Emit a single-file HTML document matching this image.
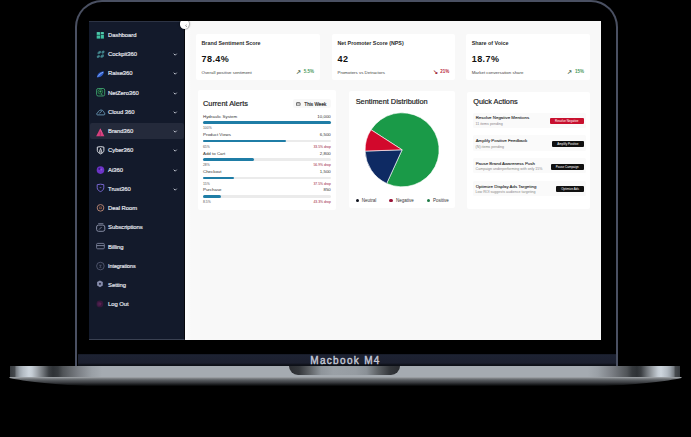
<!DOCTYPE html>
<html><head><meta charset="utf-8">
<style>
*{margin:0;padding:0;box-sizing:border-box}
html,body{width:691px;height:437px;background:#000;overflow:hidden;font-family:"Liberation Sans",sans-serif}
.abs{position:absolute}
#lid{position:absolute;left:75px;top:0;width:543px;height:380px;border:2.5px solid #4a5062;border-bottom:none;border-radius:27px 27px 0 0;background:#000}
#screen{position:absolute;left:89px;top:20.5px;width:512px;height:319px;background:linear-gradient(90deg,#131a2b 0,#131a2b 95px,#fdfdfe 96px,#fdfdfe 98px,#f8f8f8 102px);overflow:hidden}
#side{position:absolute;left:0;top:0;width:95.5px;height:319px;background:#131a2b;border-top:1px solid #2c3344;border-bottom:1px solid #3a4152;border-right:0.8px solid #08090e}
#side .t{position:absolute;left:19.1px;line-height:6px;white-space:nowrap;color:#e4e6ee;font-size:5.9px;font-weight:normal;letter-spacing:-0.06px;-webkit-text-stroke:0.18px #e4e6ee}
#side svg.ic{position:absolute;left:7px;width:10px;height:10px}
#side svg.ch{position:absolute;left:84.3px;width:4.4px;height:3px}
#main{position:absolute;left:95.5px;top:0;width:416.5px;height:319px}
.card{position:absolute;background:#fff;border-radius:2px}
.tx{position:absolute;white-space:nowrap}
</style></head><body>

<!-- lid -->
<div id="lid"></div>

<!-- chin strip -->
<div class="abs" style="left:77.5px;top:354px;width:538px;height:11.8px;background:linear-gradient(#151925 0px,#1d2232 1.5px,#1b1f2e 9px,#10131c 10.5px,#0c0f16 11.8px)"></div>
<div class="abs" style="left:0;top:356.1px;width:691px;text-align:center;font-size:10px;letter-spacing:1.32px;color:#c4c8d6;line-height:10px;font-weight:normal;-webkit-text-stroke:0.4px #c4c8d6"><span style="position:relative;left:0px">Macbook M4</span></div>

<!-- base -->
<div class="abs" style="left:10px;top:365.7px;width:670px;height:11.2px;background:linear-gradient(90deg,#35393d 0px,#45494d 4.5px,#7a8086 6.5px,#a0a8b0 10px,#b4bcc4 13px,#cdd5dd 19px,#c4ccd4 22px,#a0a6ac 27px,#70757a 33px,#3a3e42 39px,#2e3236 43px,#363a3e 48px,#505458 53px,#7a7e84 68px,#9aa0a6 82px,#a5abb1 92px,#a5abb1 578px,#9aa0a6 588px,#7a7e84 602px,#505458 617px,#363a3e 622px,#2e3236 627px,#3a3e42 631px,#70757a 637px,#a0a6ac 643px,#c4ccd4 648px,#cdd5dd 651px,#b4bcc4 657px,#a0a8b0 660px,#7a8086 663.5px,#45494d 665.5px,#35393d 670px)"></div>
<!-- lower lip -->
<svg class="abs" style="left:0;top:376.9px" width="691" height="12" viewBox="0 0 691 12">
<defs><linearGradient id="lip" x1="0" y1="0" x2="0" y2="1"><stop offset="0" stop-color="#a8acb0"/><stop offset="0.09" stop-color="#8e9296"/><stop offset="0.17" stop-color="#7a7e82"/><stop offset="0.33" stop-color="#5a5e62"/><stop offset="0.6" stop-color="#3a3c40"/><stop offset="0.82" stop-color="#1a1c1e"/><stop offset="1" stop-color="#000"/></linearGradient></defs>
<path d="M9.5 0 L681.5 0 L681.5 1 C 665 4.5, 645 7, 600 9.2 L 91 9.2 C 46 7, 26 4.5, 9.5 1 Z" fill="url(#lip)"/>
</svg>
<!-- notch -->
<div class="abs" style="left:289px;top:365.7px;width:111px;height:9.3px;border-radius:0 0 9px 9px;background:linear-gradient(90deg,#2a2c30 0%,#34373b 9%,#64686c 20%,#8e949a 29%,#9aa0a6 40%,#969ca2 60%,#8a9096 70%,#5e6266 80%,#34373b 91%,#2a2c30 100%)"></div>

<!-- screen -->
<div id="screen">
  <div id="side">
<span class="t" style="top:10.46px;">Dashboard</span>
<svg class="ic" style="top:8.55px" viewBox="0 0 10 10"><g fill="#3fbf9f"><rect x="0.7" y="2.1" width="3.5" height="2.8"/><rect x="0.7" y="5.5" width="3.5" height="3.1"/><rect x="4.8" y="2.1" width="3.1" height="2.3"/><rect x="4.8" y="5.0" width="3.1" height="3.6"/></g><g fill="#7fe3cb" opacity="0.6"><rect x="5.2" y="2.4" width="2.2" height="1.2"/><rect x="1.1" y="2.5" width="2.2" height="1"/></g></svg>
<span class="t" style="top:29.70px;">Cockpit360</span>
<svg class="ic" style="top:27.70px" viewBox="0 0 10 10"><g fill="#3b7a82"><ellipse cx="3.3" cy="3.5" rx="2.1" ry="1.35" transform="rotate(-35 3.3 3.5)"/><ellipse cx="7.0" cy="3.1" rx="1.7" ry="1.35" transform="rotate(-35 7.0 3.1)"/><ellipse cx="2.4" cy="7.5" rx="1.8" ry="1.35" transform="rotate(-35 2.4 7.5)"/><ellipse cx="6.2" cy="7.1" rx="2.1" ry="1.35" transform="rotate(-35 6.2 7.1)"/></g><g fill="#5a9aa0" opacity="0.7"><circle cx="3.6" cy="3.3" r="0.6"/><circle cx="7.2" cy="2.9" r="0.6"/><circle cx="2.2" cy="7.6" r="0.6"/><circle cx="5.9" cy="7.3" r="0.6"/></g></svg>
<svg class="ch" style="top:31.74px" viewBox="0 0 4.4 3"><path d="M0.7 0.7 L2.2 2.2 L3.7 0.7" stroke="#d8dce6" stroke-width="0.85" fill="none"/></svg>
<span class="t" style="top:48.94px;">Raise360</span>
<svg class="ic" style="top:47.20px" viewBox="0 0 10 10"><path d="M0.9 8.4 C0.9 5.2 3.4 2.5 8 2.5 C7.9 5.9 5 8.4 0.9 8.4 Z" fill="#2f5cc8"/><path d="M1.9 7.6 C3 5.8 4.8 4.3 7 3.3" stroke="#8aaef6" stroke-width="1" fill="none"/></svg>
<svg class="ch" style="top:50.98px" viewBox="0 0 4.4 3"><path d="M0.7 0.7 L2.2 2.2 L3.7 0.7" stroke="#d8dce6" stroke-width="0.85" fill="none"/></svg>
<span class="t" style="top:68.19px;">NetZero360</span>
<svg class="ic" style="top:65.85px" viewBox="0 0 10 10"><rect x="0.6" y="1.5" width="8.1" height="7.5" rx="1.6" fill="none" stroke="#3c9c6a" stroke-width="0.95"/><circle cx="4.3" cy="4.7" r="2.3" fill="#0b2a1a" stroke="#2f8a58" stroke-width="0.8"/><circle cx="4.4" cy="4.6" r="1" fill="#4aa878"/><path d="M5.5 6.8 L6.2 8.4" stroke="#5ab088" stroke-width="0.8"/></svg>
<svg class="ch" style="top:70.22px" viewBox="0 0 4.4 3"><path d="M0.7 0.7 L2.2 2.2 L3.7 0.7" stroke="#d8dce6" stroke-width="0.85" fill="none"/></svg>
<span class="t" style="top:87.42px;">Cloud 360</span>
<svg class="ic" style="top:85.20px" viewBox="0 0 10 10"><path d="M1.3 7.9 L8 7.9 C9.1 7.9 9.2 6.1 8.1 5.7 C7.7 3.5 5.3 2.3 3.5 3.5 C2.5 4.1 2 4.9 1.8 5.6 C0.5 5.9 0.4 7.9 1.3 7.9 Z" fill="none" stroke="#6a9ab8" stroke-width="0.9"/><path d="M3.4 6.2 L5.8 4.2" stroke="#6a9ab8" stroke-width="0.9"/></svg>
<svg class="ch" style="top:89.46px" viewBox="0 0 4.4 3"><path d="M0.7 0.7 L2.2 2.2 L3.7 0.7" stroke="#d8dce6" stroke-width="0.85" fill="none"/></svg>
<div style="position:absolute;left:0.8px;top:101.90px;width:94.7px;height:16px;background:#242a3b;border-radius:2px"></div>
<span class="t" style="top:106.67px;">Brand360</span>
<svg class="ic" style="top:105.15px" viewBox="0 0 10 10"><path d="M4.3 1.2 L8.4 9.2 L0.2 9.2 Z" fill="#d8407e"/><path d="M4.3 4.8 L4.3 9.2" stroke="#a02a62" stroke-width="0.8"/><path d="M4.3 2.2 L6 5.6" stroke="#ea6a9e" stroke-width="0.6"/></svg>
<svg class="ch" style="top:108.70px" viewBox="0 0 4.4 3"><path d="M0.7 0.7 L2.2 2.2 L3.7 0.7" stroke="#d8dce6" stroke-width="0.85" fill="none"/></svg>
<span class="t" style="top:125.91px;">Cyber360</span>
<svg class="ic" style="top:123.50px" viewBox="0 0 10 10"><path d="M1.3 2.1 Q4.6 1.2 7.9 2.1 L7.9 5.4 C7.9 7.1 6.2 8.3 4.6 8.9 C3 8.3 1.3 7.1 1.3 5.4 Z" fill="none" stroke="#e6e8ee" stroke-width="0.95"/><path d="M4.6 3.3 L3.5 6.4 M4.6 3.3 L5.7 6.4" stroke="#e6e8ee" stroke-width="0.8"/><ellipse cx="4.6" cy="7.0" rx="1.5" ry="0.75" fill="none" stroke="#e6e8ee" stroke-width="0.7"/></svg>
<svg class="ch" style="top:127.94px" viewBox="0 0 4.4 3"><path d="M0.7 0.7 L2.2 2.2 L3.7 0.7" stroke="#d8dce6" stroke-width="0.85" fill="none"/></svg>
<span class="t" style="top:145.15px;">Ai360</span>
<svg class="ic" style="top:143.15px" viewBox="0 0 10 10"><circle cx="4.5" cy="5.1" r="3.8" fill="#6c34c6"/><circle cx="3.4" cy="3.9" r="1.1" fill="#3e178a"/><circle cx="5.3" cy="4.5" r="1" fill="#8a52e0"/></svg>
<svg class="ch" style="top:147.18px" viewBox="0 0 4.4 3"><path d="M0.7 0.7 L2.2 2.2 L3.7 0.7" stroke="#d8dce6" stroke-width="0.85" fill="none"/></svg>
<span class="t" style="top:164.39px;">Trust360</span>
<svg class="ic" style="top:161.85px" viewBox="0 0 10 10"><path d="M1.2 1.7 Q4.5 0.7 7.8 1.7 L7.8 4.8 C7.8 6.8 6 8 4.5 8.6 C3 8 1.2 6.8 1.2 4.8 Z" fill="none" stroke="#7565d0" stroke-width="1"/><path d="M3.6 4.6 L5.4 4.6" stroke="#7565d0" stroke-width="0.7"/></svg>
<svg class="ch" style="top:166.42px" viewBox="0 0 4.4 3"><path d="M0.7 0.7 L2.2 2.2 L3.7 0.7" stroke="#d8dce6" stroke-width="0.85" fill="none"/></svg>
<span class="t" style="top:183.63px;">Deal Room</span>
<svg class="ic" style="top:181.15px" viewBox="0 0 10 10"><circle cx="4.5" cy="4.85" r="3.3" fill="none" stroke="#b08070" stroke-width="1"/><rect x="3.3" y="3.6" width="2.4" height="2.5" fill="#8a5a4a"/><rect x="4" y="4.4" width="1" height="1" fill="#2a1410"/></svg>
<span class="t" style="top:202.87px;">Subscriptions</span>
<svg class="ic" style="top:200.65px" viewBox="0 0 10 10"><path d="M2.2 1.6 L7.4 1.6" stroke="#7d849c" stroke-width="0.8"/><rect x="0.6" y="3.1" width="8.2" height="6.2" rx="1.9" fill="none" stroke="#8a90a8" stroke-width="0.95"/><path d="M3 7.6 L5.6 5" stroke="#8a90a8" stroke-width="0.8"/></svg>
<span class="t" style="top:222.11px;">Billing</span>
<svg class="ic" style="top:219.50px" viewBox="0 0 10 10"><rect x="0.6" y="2.4" width="7.7" height="5.4" rx="1" fill="none" stroke="#7a8098" stroke-width="0.9"/><path d="M0.6 4.6 L8.3 4.6" stroke="#7a8098" stroke-width="1"/></svg>
<span class="t" style="top:241.34px;font-size:5.4px;">Integrations</span>
<svg class="ic" style="top:239.05px" viewBox="0 0 10 10"><circle cx="4.4" cy="5.05" r="3.8" fill="none" stroke="#5a6078" stroke-width="0.8"/><path d="M3.1 4.2 L4.4 4.2 L4.4 5.9 M4.4 4.2 L5.7 4.2 M4.4 5.9 L3.6 6.9 M4.4 5.9 L5.2 6.9" stroke="#5a6078" stroke-width="0.7" fill="none"/></svg>
<span class="t" style="top:260.58px;">Setting</span>
<svg class="ic" style="top:257.85px" viewBox="0 0 10 10"><path d="M3.95 1.4 L6.8 3.1 L6.8 6.6 L3.95 8.3 L1.1 6.6 L1.1 3.1 Z" fill="#868cab"/><circle cx="3.95" cy="4.85" r="1.1" fill="#2a2e44"/></svg>
<span class="t" style="top:279.82px;">Log Out</span>
<svg class="ic" style="top:277.00px" viewBox="0 0 10 10"><circle cx="3.9" cy="4.9" r="3.4" fill="#37183c"/><circle cx="3.3" cy="4.9" r="2" fill="#4a1f4c"/><path d="M2.8 4.9 L5.2 4.9 M4.3 4 L5.2 4.9 L4.3 5.8" stroke="#6a2858" stroke-width="0.6" fill="none"/></svg>

  </div>
  <div style="position:absolute;left:90.5px;top:-1.6px;width:9.8px;height:9.8px;border-radius:50%;background:#fff;box-shadow:0 0 1.5px 0.5px rgba(0,0,0,0.55);z-index:5"></div>
  <svg style="position:absolute;left:95.6px;top:3.0px;z-index:6" width="2.4" height="3.4" viewBox="0 0 2.4 3.4"><path d="M1.9 0.4 L0.6 1.7 L1.9 3" stroke="#777" stroke-width="0.7" fill="none"/></svg>
  <div id="main">
<div class="card" style="left:11.50px;top:13.20px;width:124.30px;height:45.90px;"><div class="tx" style="left:5.50px;top:6.04px;font-size:5.35px;line-height:6.42px;color:#2b2b2b;font-weight:bold;">Brand Sentiment Score</div><div class="tx" style="left:5.60px;top:20.18px;font-size:9px;line-height:10px;color:#111;font-weight:bold;letter-spacing:0.4px;">78.4%</div><div class="tx" style="left:5.50px;top:36.54px;font-size:4.4px;line-height:5.28px;color:#444;">Overall positive sentiment</div><div class="tx" style="right:6.40px;top:35.24px;font-size:4.5px;line-height:5.4px;color:#4a9a5a;font-weight:bold;"><span style="font-size:6px;position:relative;top:0.6px;color:#4f6e55">&#8599;</span>&nbsp;&nbsp;5.5%</div></div>
<div class="card" style="left:147.50px;top:13.20px;width:122.50px;height:45.90px;"><div class="tx" style="left:5.50px;top:6.04px;font-size:5.35px;line-height:6.42px;color:#2b2b2b;font-weight:bold;">Net Promoter Score (NPS)</div><div class="tx" style="left:5.60px;top:20.18px;font-size:9px;line-height:10px;color:#111;font-weight:bold;letter-spacing:0.4px;">42</div><div class="tx" style="left:5.50px;top:36.54px;font-size:4.4px;line-height:5.28px;color:#444;">Promoters vs Detractors</div><div class="tx" style="right:5.20px;top:35.24px;font-size:4.5px;line-height:5.4px;color:#b8283c;font-weight:bold;"><span style="font-size:6px;position:relative;top:0.6px;color:#a02a3a">&#8600;</span>&nbsp;&nbsp;21%</div></div>
<div class="card" style="left:281.70px;top:13.20px;width:124.20px;height:45.90px;"><div class="tx" style="left:5.50px;top:6.04px;font-size:5.35px;line-height:6.42px;color:#2b2b2b;font-weight:bold;">Share of Voice</div><div class="tx" style="left:5.60px;top:20.18px;font-size:9px;line-height:10px;color:#111;font-weight:bold;letter-spacing:0.4px;">18.7%</div><div class="tx" style="left:5.50px;top:36.54px;font-size:4.4px;line-height:5.28px;color:#444;">Market conversation share</div><div class="tx" style="right:6.40px;top:35.24px;font-size:4.5px;line-height:5.4px;color:#4a9a5a;font-weight:bold;"><span style="font-size:6px;position:relative;top:0.6px;color:#4f6e55">&#8599;</span>&nbsp;&nbsp;15%</div></div>
<div class="card" style="left:13.70px;top:69.90px;width:138.10px;height:119.40px;"><div class="tx" style="left:4.80px;top:9.43px;font-size:7.37px;line-height:8.84px;color:#1e1e1e;-webkit-text-stroke:0.2px #1e1e1e;">Current Alerts</div><div style="position:absolute;left:94.40px;top:8.40px;width:38.4px;height:9.6px;background:#f8f8f8;border-radius:2px"></div><svg style="position:absolute;left:97.80px;top:11.90px" width="4.6" height="4.2" viewBox="0 0 4.6 4.2"><rect x="0.45" y="0.5" width="3.7" height="3.3" rx="0.6" fill="none" stroke="#555" stroke-width="0.8"/><path d="M0.45 1.9 L4.15 1.9" stroke="#555" stroke-width="0.6"/></svg><div class="tx" style="left:106.10px;top:11.15px;font-size:4.7px;line-height:5.64px;color:#2a2a2a;-webkit-text-stroke:0.15px #2a2a2a;">This Week</div><div class="tx" style="left:4.80px;top:23.34px;font-size:4.4px;line-height:5.28px;color:#333;">Hydraulic System</div><div class="tx" style="right:5.50px;top:23.34px;font-size:4.4px;line-height:5.28px;color:#333;">10,000</div><div style="position:absolute;left:4.800000000000011px;top:31.00px;width:127.80000000000001px;height:2.5px;background:#ebebeb;border-radius:2px"><div style="width:100.0%;height:100%;background:#1f7da6;border-radius:2px"></div></div><div class="tx" style="left:4.80px;top:35.98px;font-size:3.4px;line-height:4.08px;color:#555;">100%</div><div class="tx" style="left:4.80px;top:41.77px;font-size:4.4px;line-height:5.28px;color:#333;">Product Views</div><div class="tx" style="right:5.50px;top:41.77px;font-size:4.4px;line-height:5.28px;color:#333;">6,500</div><div style="position:absolute;left:4.800000000000011px;top:49.43px;width:127.80000000000001px;height:2.5px;background:#ebebeb;border-radius:2px"><div style="width:64.8%;height:100%;background:#1f7da6;border-radius:2px"></div></div><div class="tx" style="left:4.80px;top:54.41px;font-size:3.4px;line-height:4.08px;color:#555;">65%</div><div class="tx" style="right:5.50px;top:54.41px;font-size:3.4px;line-height:4.08px;color:#9a2038;">33.5% drop</div><div class="tx" style="left:4.80px;top:60.20px;font-size:4.4px;line-height:5.28px;color:#333;">Add to Cart</div><div class="tx" style="right:5.50px;top:60.20px;font-size:4.4px;line-height:5.28px;color:#333;">2,800</div><div style="position:absolute;left:4.800000000000011px;top:67.86px;width:127.80000000000001px;height:2.5px;background:#ebebeb;border-radius:2px"><div style="width:39.8%;height:100%;background:#1f7da6;border-radius:2px"></div></div><div class="tx" style="left:4.80px;top:72.84px;font-size:3.4px;line-height:4.08px;color:#555;">28%</div><div class="tx" style="right:5.50px;top:72.84px;font-size:3.4px;line-height:4.08px;color:#9a2038;">56.9% drop</div><div class="tx" style="left:4.80px;top:78.63px;font-size:4.4px;line-height:5.28px;color:#333;">Checkout</div><div class="tx" style="right:5.50px;top:78.63px;font-size:4.4px;line-height:5.28px;color:#333;">1,500</div><div style="position:absolute;left:4.800000000000011px;top:86.29px;width:127.80000000000001px;height:2.5px;background:#ebebeb;border-radius:2px"><div style="width:24.5%;height:100%;background:#1f7da6;border-radius:2px"></div></div><div class="tx" style="left:4.80px;top:91.27px;font-size:3.4px;line-height:4.08px;color:#555;">15%</div><div class="tx" style="right:5.50px;top:91.27px;font-size:3.4px;line-height:4.08px;color:#9a2038;">37.5% drop</div><div class="tx" style="left:4.80px;top:97.06px;font-size:4.4px;line-height:5.28px;color:#333;">Purchase</div><div class="tx" style="right:5.50px;top:97.06px;font-size:4.4px;line-height:5.28px;color:#333;">850</div><div style="position:absolute;left:4.800000000000011px;top:104.72px;width:127.80000000000001px;height:2.5px;background:#ebebeb;border-radius:2px"><div style="width:14.0%;height:100%;background:#1f7da6;border-radius:2px"></div></div><div class="tx" style="left:4.80px;top:109.70px;font-size:3.4px;line-height:4.08px;color:#555;">8.5%</div><div class="tx" style="right:5.50px;top:109.70px;font-size:3.4px;line-height:4.08px;color:#9a2038;">43.3% drop</div></div>
<div class="card" style="left:164.30px;top:70.50px;width:105.80px;height:117.30px;"><div class="tx" style="left:6.90px;top:6.63px;font-size:7.36px;line-height:8.83px;color:#222;-webkit-text-stroke:0.2px #222;">Sentiment Distribution</div><svg style="position:absolute;left:0;top:0" width="105.8" height="117.3"><path d="M53.10 58.80 L22.00 38.76 A37 37 0 1 1 37.70 92.44 Z" fill="#1a9a48" stroke="#fff" stroke-width="0.6" stroke-linejoin="round"/><path d="M53.10 58.80 L37.70 92.44 A37 37 0 0 1 16.12 60.09 Z" fill="#0e2a63" stroke="#fff" stroke-width="0.6" stroke-linejoin="round"/><path d="M53.10 58.80 L16.12 60.09 A37 37 0 0 1 22.00 38.76 Z" fill="#d2082c" stroke="#fff" stroke-width="0.6" stroke-linejoin="round"/></svg><div style="position:absolute;left:7.00px;top:107.50px;width:3.4px;height:3.4px;border-radius:50%;background:#10141f"></div><div class="tx" style="left:13.00px;top:106.94px;font-size:4.5px;line-height:5.4px;color:#333;">Neutral</div><div style="position:absolute;left:40.50px;top:107.50px;width:3.4px;height:3.4px;border-radius:50%;background:#9a1438"></div><div class="tx" style="left:47.30px;top:106.94px;font-size:4.5px;line-height:5.4px;color:#333;">Negative</div><div style="position:absolute;left:78.20px;top:107.50px;width:3.4px;height:3.4px;border-radius:50%;background:#1f7a46"></div><div class="tx" style="left:84.20px;top:106.94px;font-size:4.5px;line-height:5.4px;color:#333;">Positive</div></div>
<div class="card" style="left:282.50px;top:71.00px;width:122.80px;height:117.80px;"><div class="tx" style="left:6.20px;top:6.54px;font-size:7.35px;line-height:8.82px;color:#1e1e1e;-webkit-text-stroke:0.2px #1e1e1e;">Quick Actions</div><div style="position:absolute;left:5.50px;top:21.00px;width:113px;height:15.2px;background:#fafafa;border-radius:1.5px"></div><div class="tx" style="left:8.70px;top:23.34px;font-size:4.4px;line-height:5.28px;color:#2a2a2a;-webkit-text-stroke:0.1px #2a2a2a;">Resolve Negative Mentions</div><div class="tx" style="left:8.60px;top:30.19px;font-size:3.6px;line-height:4.32px;color:#888;">11 items pending</div><div style="position:absolute;left:82.70px;top:26.20px;width:34.20px;height:6px;background:#c8102e;border-radius:1px;color:#fff;font-size:3px;line-height:6px;text-align:center;white-space:nowrap">Resolve Negative</div><div style="position:absolute;left:5.50px;top:43.90px;width:113px;height:15.2px;background:#fafafa;border-radius:1.5px"></div><div class="tx" style="left:8.70px;top:46.24px;font-size:4.4px;line-height:5.28px;color:#2a2a2a;-webkit-text-stroke:0.1px #2a2a2a;">Amplify Positive Feedback</div><div class="tx" style="left:8.60px;top:53.09px;font-size:3.6px;line-height:4.32px;color:#888;">(N) items pending</div><div style="position:absolute;left:85.00px;top:49.10px;width:31.90px;height:6px;background:#111;border-radius:1px;color:#fff;font-size:3px;line-height:6px;text-align:center;white-space:nowrap">Amplify Positive</div><div style="position:absolute;left:5.50px;top:66.80px;width:113px;height:15.2px;background:#fafafa;border-radius:1.5px"></div><div class="tx" style="left:8.70px;top:69.14px;font-size:4.4px;line-height:5.28px;color:#2a2a2a;-webkit-text-stroke:0.1px #2a2a2a;">Pause Brand Awareness Push</div><div class="tx" style="left:8.60px;top:75.99px;font-size:3.6px;line-height:4.32px;color:#888;">Campaign underperforming with only 15%</div><div style="position:absolute;left:83.60px;top:72.00px;width:33.30px;height:6px;background:#111;border-radius:1px;color:#fff;font-size:3px;line-height:6px;text-align:center;white-space:nowrap">Pause Campaign</div><div style="position:absolute;left:5.50px;top:89.70px;width:113px;height:15.2px;background:#fafafa;border-radius:1.5px"></div><div class="tx" style="left:8.70px;top:92.04px;font-size:4.4px;line-height:5.28px;color:#2a2a2a;-webkit-text-stroke:0.1px #2a2a2a;">Optimize Display Ads Targeting</div><div class="tx" style="left:8.60px;top:98.89px;font-size:3.6px;line-height:4.32px;color:#888;">Low ROI suggests audience targeting</div><div style="position:absolute;left:89.30px;top:94.90px;width:27.60px;height:6px;background:#111;border-radius:1px;color:#fff;font-size:3px;line-height:6px;text-align:center;white-space:nowrap">Optimize Ads</div></div>
  </div>
</div>

</body></html>
